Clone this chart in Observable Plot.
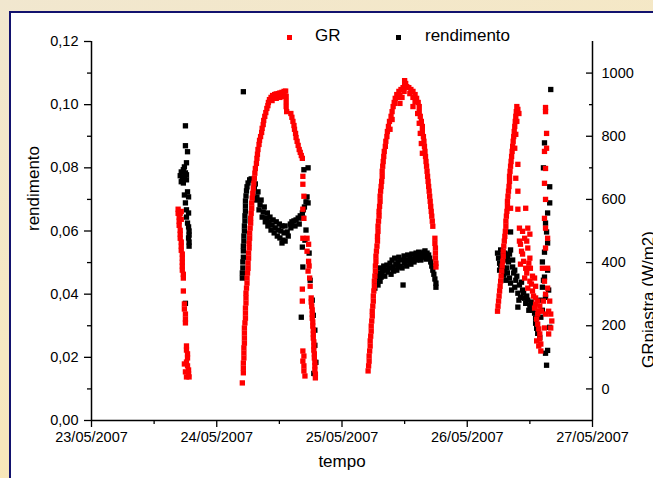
<!DOCTYPE html>
<html><head><meta charset="utf-8">
<script src="https://cdn.jsdelivr.net/npm/d3@7"></script>
<script src="https://cdn.jsdelivr.net/npm/@observablehq/plot@0.6"></script>
<style>
html,body{margin:0;padding:0;}
body{width:653px;height:478px;overflow:hidden;position:relative;background:linear-gradient(160deg,#f1e7cf 0%,#f6e8c2 50%,#fae4a8 100%);font-family:"Liberation Sans",Arial,sans-serif;}
#frame{position:absolute;left:9px;top:11px;width:660px;height:480px;border-left:2px solid #12126e;border-top:2px solid #12126e;background:#fff;}
#chart{position:absolute;left:0;top:0;}
.sq{position:absolute;width:5px;height:5px;}
.lt{position:absolute;font-size:17px;line-height:20px;color:#000;white-space:nowrap;}
</style></head>
<body>
<div id="frame"></div>
<div id="chart"></div>
<div class="sq" style="left:287px;top:35px;background:#ff0000"></div>
<div class="lt" style="left:315px;top:26px">GR</div>
<div class="sq" style="left:396px;top:35px;background:#000"></div>
<div class="lt" style="left:425px;top:26px">rendimento</div>
<script>
// time in hours since 23/05/2007 00:00 ; GR in W/m2 ; rendimento as fraction
const dayLabels = ["23/05/2007","24/05/2007","25/05/2007","26/05/2007","27/05/2007"];
const rendTicks = [0,0.02,0.04,0.06,0.08,0.10,0.12];
const grTicks = [0,200,400,600,800,1000];

const grDay1 = [[16.6,569],[16.6,556],[17.0,556],[17.2,562],[16.8,544],[17.2,537],[16.8,531],[16.8,518],[17.0,502],[17.0,490],[17.0,477],[17.2,465],[17.2,452],[17.2,439],[17.4,427],[17.4,414],[17.4,401],[17.4,389],[17.4,376],[17.6,363],[17.6,351],[17.6,310],[17.8,269],[17.8,253],[18.0,237],[18.0,221],[18.0,209],[18.2,136],[18.2,123],[18.4,111],[18.4,98],[18.2,85],[17.8,79],[18.4,73],[18.6,60],[18.0,54],[18.6,47],[18.7,38],[18.2,38]];
const rendDay1 = [[18.0,0.0933],[18.0,0.0870],[18.4,0.0851],[18.2,0.0816],[17.8,0.0803],[17.2,0.0787],[17.6,0.0794],[18.0,0.0784],[17.0,0.0775],[17.4,0.0768],[17.8,0.0771],[18.2,0.0778],[17.2,0.0756],[17.6,0.0752],[18.2,0.0762],[18.4,0.0724],[17.8,0.0714],[18.6,0.0708],[18.0,0.0689],[18.2,0.0667],[18.6,0.0657],[18.2,0.0644],[18.4,0.0625],[18.6,0.0613],[18.7,0.0600],[18.7,0.0587],[18.6,0.0578],[18.7,0.0565],[18.7,0.0552],[18.0,0.0371]];

const grDay2 = [[28.9,19],[29.1,51],[29.1,66],[29.1,82],[29.2,98],[29.2,114],[29.2,130],[29.3,145],[29.3,161],[29.3,177],[29.3,193],[29.4,209],[29.5,224],[29.5,240],[29.5,256],[29.6,272],[29.6,288],[29.6,303],[29.7,319],[29.8,335],[29.8,351],[29.9,367],[30.0,382],[30.0,398],[30.1,414],[30.1,430],[30.2,446],[30.2,461],[30.3,477],[30.3,493],[30.4,509],[30.5,525],[30.5,540],[30.6,556],[30.7,572],[30.7,588],[30.8,604],[30.9,619],[31.0,635],[31.1,651],[31.2,667],[31.3,683],[31.4,698],[31.6,714],[31.7,730],[31.8,743],[31.9,758],[32.1,774],[32.2,787],[32.4,799],[32.6,812],[32.7,825],[32.9,837],[33.0,850],[33.2,863],[33.4,875],[33.6,888],[33.8,897],[33.9,907],[34.1,916],[34.4,923],[34.7,929],[35.1,932],[35.4,934],[35.8,935],[36.1,937],[36.5,939],[36.9,942],[37.2,943],
[34.6,913],[35.4,920],[36.1,923],[36.7,926],[37.3,926],[37.3,910],[37.3,894],[37.4,878],
[38.2,872],[38.4,860],[38.6,847],[38.8,834],[38.9,822],[39.1,809],[39.2,796],[39.4,784],[39.6,771],[39.8,758],[40.0,749],[40.2,739],[40.4,730],
[40.5,673],[40.5,648],[40.7,610],[40.5,569],[40.7,540],[40.5,477],[41.3,477],[41.6,458],[41.3,436],[41.6,404],[41.7,389],[41.5,373],[41.8,351],[41.9,325],[40.4,316],[40.4,278],
[42.1,288],[42.1,275],[42.2,262],[42.3,250],[42.3,237],[42.3,224],[42.4,212],[42.4,199],[42.5,186],[42.5,174],[42.5,161],[42.6,149],[42.6,136],[42.6,123],[42.7,111],[42.7,98],[42.8,85],[42.8,73],[42.8,60],[42.9,47],[42.9,35],
[40.5,120],[40.7,104],[40.5,88],[40.7,73],[40.7,57],[40.9,41]];
const rendDay2 = [[29.1,0.1041],
[28.9,0.0451],[28.9,0.0467],[29.0,0.0483],[29.0,0.0502],[29.1,0.0517],[29.1,0.0537],[29.1,0.0552],[29.2,0.0568],[29.2,0.0584],[29.3,0.0600],[29.3,0.0616],[29.4,0.0632],[29.4,0.0648],[29.5,0.0663],[29.5,0.0679],[29.5,0.0695],[29.6,0.0711],[29.7,0.0727],[29.8,0.0740],[30.0,0.0752],[30.3,0.0762],[30.6,0.0765],
[30.8,0.0762],[31.4,0.0749],[31.9,0.0724],[32.5,0.0698],[33.1,0.0676],[33.7,0.0657],[34.2,0.0644],[34.8,0.0635],[35.4,0.0629],[36.0,0.0622],[36.5,0.0616],[37.1,0.0616],
[31.2,0.0737],[31.7,0.0708],[32.3,0.0683],[32.9,0.0660],[33.5,0.0641],[34.0,0.0629],[34.6,0.0619],[35.2,0.0610],[35.8,0.0603],[36.3,0.0600],[36.9,0.0594],
[31.6,0.0698],[32.1,0.0667],[32.7,0.0644],[33.3,0.0629],[33.8,0.0616],[34.4,0.0603],[35.0,0.0594],[35.6,0.0584],[36.1,0.0578],[36.7,0.0571],[36.5,0.0562],[37.1,0.0568],
[37.5,0.0597],[37.7,0.0584],[38.1,0.0622],[38.2,0.0610],[38.4,0.0629],[38.8,0.0632],[39.0,0.0616],[39.2,0.0635],[39.6,0.0641],[39.8,0.0622],[40.0,0.0648],[40.4,0.0657],[40.5,0.0641],[40.6,0.0667],[40.8,0.0676],[41.1,0.0692],[41.3,0.0708],[41.5,0.0689],
[40.7,0.0794],[41.5,0.0800],
[41.1,0.0603],[40.9,0.0571],[40.4,0.0549],[41.7,0.0530],[40.5,0.0486],[41.9,0.0444],[42.3,0.0381],[42.5,0.0333],[40.2,0.0327],[42.8,0.0286],[42.8,0.0238],[43.0,0.0184],[42.6,0.0149]];

const grDay3 = [[53.0,57],[53.1,73],[53.2,88],[53.2,104],[53.3,120],[53.4,136],[53.4,152],[53.5,167],[53.6,183],[53.6,199],[53.7,215],[53.8,231],[53.8,246],[53.9,262],[54.0,278],[54.0,294],[54.1,310],[54.2,325],[54.2,341],[54.3,357],[54.4,373],[54.4,389],[54.5,404],[54.5,420],[54.6,436],[54.7,452],[54.8,468],[54.8,483],[54.9,499],[54.9,515],[55.0,531],[55.1,547],[55.1,562],[55.2,578],[55.3,594],[55.3,610],[55.4,626],[55.5,641],[55.6,657],[55.7,673],[55.7,689],[55.8,705],[55.9,720],[56.0,736],[56.1,752],[56.3,768],[56.4,784],[56.6,799],[56.7,815],[56.9,831],[57.1,847],[57.4,863],[57.6,878],[57.8,894],[58.0,907],[58.2,920],[58.5,932],[58.9,942],
[57.6,853],[57.2,822],[58.1,904],[58.7,923],
[59.3,948],[59.7,954],[60.0,961],[60.0,976],[60.2,967],[60.4,957],[60.8,954],[61.2,948],[61.6,942],[62.0,932],[62.3,920],[62.6,907],[62.8,894],
[59.1,929],[59.5,923],[59.1,904],[59.9,942],[61.0,935],[61.6,923],[61.6,894],[62.0,910],
[62.8,878],[63.0,863],[63.2,847],[63.4,831],[63.4,815],[63.6,799],[63.7,784],[63.8,768],[63.9,752],[64.0,736],[64.1,720],[64.2,705],[64.3,689],[64.4,673],[64.5,657],[64.6,641],[64.7,626],[64.8,610],[64.9,594],[65.0,578],[65.1,562],[65.2,547],[65.3,531],[65.4,515],
[65.8,477],[65.8,461],[65.9,446],[65.9,430],[65.9,414],[66.0,398],[66.0,386],
[62.5,872],[62.8,841],[63.0,809],[63.2,777],[63.4,746]];
const rendDay3 = [[54.5,0.0435],[54.7,0.0451],[54.9,0.0429],[55.1,0.0467],[55.3,0.0483],[55.5,0.0454],[55.8,0.0476],[56.0,0.0489],[56.2,0.0457],[56.6,0.0492],[56.8,0.0470],[57.0,0.0483],[57.2,0.0498],[57.4,0.0463],[57.6,0.0508],[57.8,0.0486],[57.9,0.0473],[58.1,0.0514],[58.3,0.0495],[58.5,0.0476],[58.7,0.0502],[58.9,0.0517],[59.1,0.0489],[59.3,0.0508],[59.5,0.0483],[59.7,0.0429],[59.9,0.0521],[60.0,0.0498],[60.2,0.0508],[60.4,0.0489],[60.6,0.0524],[60.8,0.0505],[61.0,0.0514],[61.2,0.0495],[61.4,0.0527],[61.6,0.0511],[61.8,0.0502],[62.0,0.0521],[62.2,0.0530],[62.3,0.0508],[62.5,0.0517],[62.7,0.0533],[62.9,0.0521],[63.1,0.0508],[63.3,0.0530],[63.5,0.0517],[63.7,0.0533],[63.9,0.0524],[64.1,0.0511],[64.3,0.0530],[64.4,0.0521],[64.6,0.0524],[64.8,0.0514],[65.0,0.0502],[65.2,0.0489],[65.4,0.0476],[65.6,0.0463],[65.8,0.0448],[66.0,0.0435],[66.0,0.0422],
[56.4,0.0476],[58.7,0.0486],[61.0,0.0498],[62.2,0.0514],[63.9,0.0537],[55.3,0.0441],[54.7,0.0460],[55.7,0.0463],[54.3,0.0419]];

const grDay4 = [[77.8,246],[77.9,262],[78.0,278],[78.1,294],[78.2,310],[78.3,325],[78.4,341],[78.5,357],[78.6,373],[78.7,389],[78.8,404],[78.9,420],[78.9,436],[79.0,452],[79.1,468],[79.2,483],[79.3,499],[79.4,515],[79.4,531],[79.5,547],[79.6,562],[79.7,578],[79.7,594],[79.8,610],[79.9,626],[80.0,641],[80.1,657],[80.1,673],[80.2,689],[80.3,705],[80.4,720],[80.5,736],[80.6,752],[80.7,768],[80.8,784],[80.9,799],[81.0,815],[81.1,831],[81.2,847],[81.3,863],[81.4,878],[81.5,894],
[81.7,885],[81.9,872],[81.5,847],[81.3,806],[81.1,762],[81.7,711],[81.3,667],[81.7,626],[80.3,572],[81.7,569],[83.2,572],[82.0,509],[83.6,509],[82.6,499],[84.0,490],[83.0,477],[82.0,468],[83.4,468],[82.2,458],[83.6,446],[82.4,436],[82.6,427],[84.0,414],[82.8,404],[82.2,395],[83.8,398],[83.2,382],[84.1,382],[83.4,367],[83.0,351],[84.0,341],[84.9,351],[84.5,357],[84.3,332],[83.6,319],[84.5,310],[85.1,325],[85.1,288],[85.5,278],[85.9,262],[84.9,256],[86.2,246],[85.5,237],[85.5,205],[85.9,174],[85.3,152],[86.1,142],[85.7,136],[86.1,120],
[85.3,221],[85.7,190],[85.9,158],[85.1,269],[84.7,294],[85.7,246],
[87.0,891],[87.0,878],[87.2,809],[87.2,762],[86.8,752],[87.0,698],[86.8,651],[87.0,600],[86.8,540],[87.0,509],[87.4,477],[87.0,446],[87.4,382],[86.4,382],[86.8,341],[87.4,319],[87.0,300],[87.8,278],[86.6,278],[87.6,246],[88.0,237],[87.0,237],[88.2,215],[88.0,193],[86.8,193],[87.6,174]];
const rendDay4 = [[77.8,0.0530],[78.0,0.0514],[78.2,0.0498],[78.4,0.0540],[78.2,0.0476],[78.4,0.0492],[78.8,0.0524],[78.8,0.0483],[79.2,0.0530],[79.2,0.0470],[79.4,0.0508],[79.7,0.0517],[80.1,0.0527],[80.3,0.0540],[79.9,0.0502],[79.6,0.0483],[79.0,0.0460],[79.4,0.0444],[79.7,0.0467],[80.1,0.0451],[80.3,0.0435],[80.7,0.0508],[80.7,0.0486],[80.9,0.0467],[81.1,0.0476],[81.1,0.0422],[80.5,0.0413],[81.3,0.0444],[81.5,0.0457],[81.7,0.0403],[82.0,0.0429],[82.4,0.0438],[81.9,0.0381],[82.2,0.0390],[82.6,0.0413],[82.8,0.0403],[83.0,0.0387],[83.2,0.0371],[83.4,0.0394],[83.6,0.0381],[83.8,0.0349],[84.0,0.0365],[84.1,0.0359],[84.3,0.0375],[81.7,0.0359],[84.5,0.0349],[84.9,0.0340],[85.1,0.0324],[85.1,0.0308],[85.3,0.0292],[85.5,0.0276],[80.3,0.0597],
[88.0,0.1048],[86.8,0.0879],[86.6,0.0800],[87.8,0.0740],[87.8,0.0689],[87.4,0.0657],[87.0,0.0625],[87.2,0.0597],[87.4,0.0562],[86.8,0.0533],[86.4,0.0502],[87.4,0.0476],[86.8,0.0454],[86.6,0.0444],[86.4,0.0422],[87.6,0.0413],[87.0,0.0390],[86.1,0.0381],[86.4,0.0349],[86.1,0.0327],[87.8,0.0295],[85.9,0.0263],[87.4,0.0222],[87.0,0.0213],[87.2,0.0175]];

const t0 = new Date(2007, 4, 23);
const T = h => new Date(t0.getTime() + h * 3600e3);
// GR (W/m2) placed on the left rendimento scale: -100..1100 <-> 0..0.12
const toLeft = g => (g + 100) / 10000;
const fromLeft = v => Math.round(v * 10000 - 100);

const grData = [...grDay1, ...grDay2, ...grDay3, ...grDay4].map(([h, g]) => ({t: T(h), v: toLeft(g)}));
const rendData = [...rendDay1, ...rendDay2, ...rendDay3, ...rendDay4].map(([h, r]) => ({t: T(h), v: r}));

const dayTicks = dayLabels.map((s, i) => T(24 * i));
const halfTicks = [0,1,2,3].map(i => T(24 * i + 12));
const fmtDay = d => dayLabels[Math.round((d - t0) / 864e5)];
const minorY = [0.01,0.03,0.05,0.07,0.09,0.11];
const minorGR = [100,300,500,700,900];

const chart = Plot.plot({
  width: 653, height: 478,
  marginLeft: 91, marginRight: 61, marginTop: 41, marginBottom: 58,
  style: {background: "transparent", fontFamily: "'Liberation Sans', Arial, sans-serif", fontSize: "14.5px", color: "#000", overflow: "hidden"},
  x: {type: "time", domain: [T(0), T(96)]},
  y: {domain: [0, 0.12]},
  marks: [
    Plot.axisY({ticks: rendTicks, tickSize: 7, tickPadding: 6, strokeWidth: 1.3, tickFormat: d => d.toFixed(2).replace(".", ","), label: null}),
    Plot.axisY({ticks: minorY, tickSize: 4, strokeWidth: 1.3, tickFormat: () => "", label: null}),
    Plot.axisX({ticks: dayTicks, tickSize: 7, tickPadding: 4, strokeWidth: 1.3, tickFormat: fmtDay, label: null}),
    Plot.axisX({ticks: halfTicks, tickSize: 4, strokeWidth: 1.3, tickFormat: () => "", label: null}),
    Plot.axisY({anchor: "right", ticks: grTicks.map(toLeft), tickSize: 7, dx: -7, strokeWidth: 1.3, tickFormat: () => "", label: null}),
    Plot.axisY({anchor: "right", ticks: minorGR.map(toLeft), tickSize: 4, dx: -4, strokeWidth: 1.3, tickFormat: () => "", label: null}),
    Plot.axisY({anchor: "right", ticks: grTicks.map(toLeft), tickSize: 0, tickPadding: 9, tickFormat: v => String(fromLeft(v)), label: null}),
    Plot.ruleX([T(0)], {strokeWidth: 1.5}),
    Plot.ruleX([T(96)], {strokeWidth: 1.5}),
    Plot.ruleY([0], {strokeWidth: 1.5}),
    Plot.dot(rendData, {x: "t", y: "v", symbol: "square", r: 3.0, fill: "#000"}),
    Plot.dot(grData, {x: "t", y: "v", symbol: "square", r: 3.0, fill: "#ff0000"}),
    Plot.text(["rendimento"], {frameAnchor: "left", dx: -58, rotate: -90, fontSize: 17}),
    Plot.text(["tempo"], {frameAnchor: "bottom", dy: 46, fontSize: 17}),
    Plot.text(["GRpiastra (W/m2)"], {frameAnchor: "right", dx: 56, rotate: -90, fontSize: 17})
  ]
});
document.getElementById("chart").appendChild(chart);
</script>
</body></html>
